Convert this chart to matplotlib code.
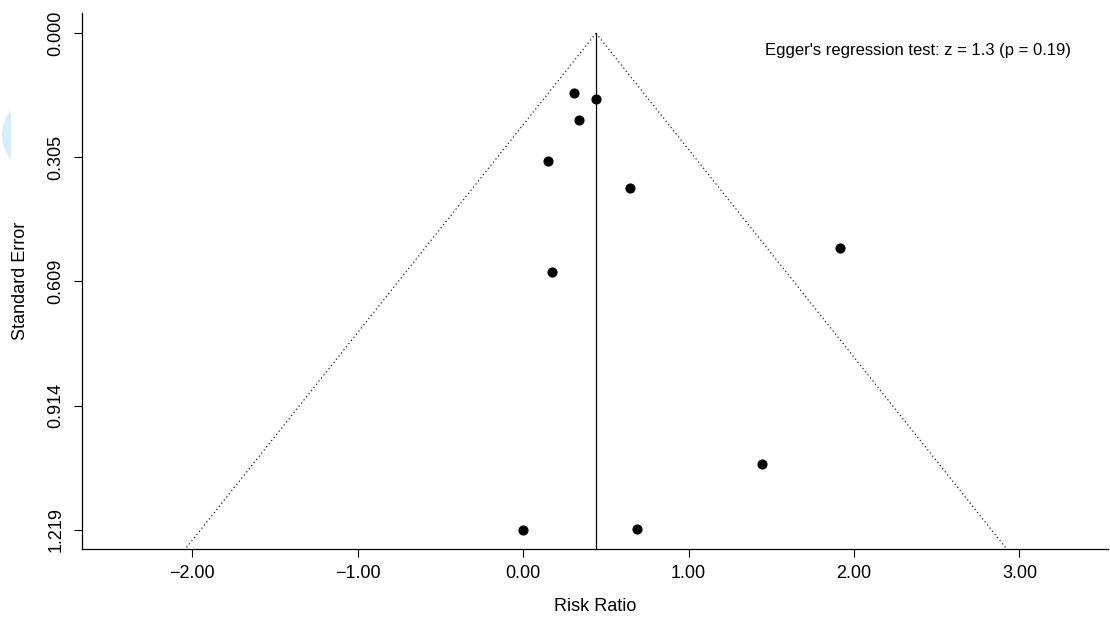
import numpy as np
import matplotlib
matplotlib.use("Agg")
import matplotlib.pyplot as plt
from matplotlib.patches import Ellipse, Rectangle
from matplotlib.ticker import FuncFormatter

# =========================
# DATA
# =========================
effect = [0.306, 0.443, 0.338, 0.149, 0.645, 0.175, 1.915, 1.444, -0.002, 0.689]
std_err = [0.147, 0.162, 0.214, 0.313, 0.379, 0.587, 0.528, 1.057, 1.219, 1.217]
pooled = 0.441
x_ticks = [-2, -1, 0, 1, 2, 3]
y_ticks = [0.000, 0.305, 0.609, 0.914, 1.219]
egger_text = "Egger's regression test: z = 1.3 (p = 0.19)"

plt.rcParams['font.family'] = ['Liberation Sans', 'DejaVu Sans']

# =========================
# FIGURE
# =========================
fig = plt.figure(figsize=(11.1, 6.23), dpi=100)
ax = fig.add_axes([81.7 / 1110, 1 - 549.3 / 623, (1108 - 81.7) / 1110, (549.3 - 13.3) / 623])

ymin, ymax = -0.049, 1.267
ax.set_xlim(-2.667, 3.535)
ax.set_ylim(ymax, ymin)

# funnel (pseudo 95% limits) and pooled estimate
se_line = np.array([0.0, ymax])
ax.plot(pooled - 1.96 * se_line, se_line, color='#222222', lw=0.9, ls=(0, (1, 2.2)))
ax.plot(pooled + 1.96 * se_line, se_line, color='#222222', lw=0.9, ls=(0, (1, 2.2)))
ax.plot([pooled, pooled], se_line, color='black', lw=0.9)

ax.plot(effect, std_err, 'o', color='black', markersize=6.3, clip_on=False)

ax.text(2.387, 0.043, egger_text, fontsize=12, ha='center', va='center')

# =========================
# AXES STYLE
# =========================
for side in ['top', 'right']:
    ax.spines[side].set_visible(False)
for side in ['left', 'bottom']:
    ax.spines[side].set_linewidth(0.9)

ax.set_xticks(x_ticks)
ax.xaxis.set_major_formatter(FuncFormatter(lambda v, p: f"{v:.2f}".replace('-', '\u2212')))
ax.set_yticks(y_ticks)
ax.set_yticklabels([f"{v:.3f}" for v in y_ticks])
ax.tick_params(axis='both', labelsize=13, length=6, width=0.8)
ax.tick_params(axis='x', pad=5)
ax.tick_params(axis='y', pad=6.5, labelrotation=90)
for lab in ax.get_yticklabels():
    lab.set_va('center')

ax.set_xlabel("Risk Ratio", fontsize=13)
ax.set_ylabel("Standard Error", fontsize=13)
ax.xaxis.set_label_coords(0.5, -0.106)
ax.xaxis.label.set_va('center')
ax.yaxis.set_label_coords(-0.0601, 0.5)
ax.yaxis.label.set_va('center')

# faint blue shape peeking in at the left edge
clip = Rectangle((0, 0), 11 / 1110, 1, transform=fig.transFigure, visible=False)
fig.add_artist(clip)
blob = Ellipse((41 / 1110, 488 / 623), 78 / 1110, 78 / 623, transform=fig.transFigure,
               color='#d6eefa', lw=0)
fig.add_artist(blob)
blob.set_clip_path(clip)

fig.savefig("out.png", dpi=100)
